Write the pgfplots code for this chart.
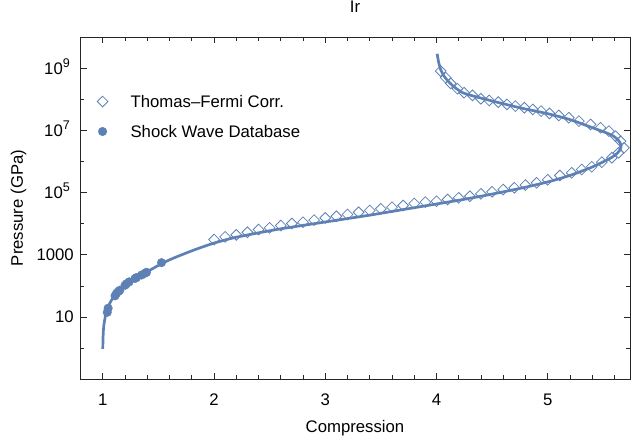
\documentclass[border=0pt]{standalone}
\usepackage{fontspec}
\setmainfont{Liberation Sans}
\usepackage{pgfplots}
\usepackage{pgfplotstable}
\pgfplotsset{compat=1.18}
\definecolor{mblue}{rgb}{0.368417,0.506779,0.709798}
\newcommand\sups[1]{\raisebox{7.3bp}{\fontsize{12.6}{14}\selectfont #1}\kern4bp}
\pgfplotsset{mylegimg/.style={legend image code/.code={\path[draw=none,fill=none] (-5bp,-6bp) rectangle (26bp,6bp); \draw[##1] plot coordinates {(0bp,0bp)};}}}

\pgfplotstableread{
x p
1.000 0.933
1.002 2.0
1.005 3.55
1.010 5.62
1.018 8.32
1.027 12.6
1.040 17.8
1.060 26.3
1.080 35.5
1.100 44.7
1.130 60.3
1.160 77.6
1.200 105
1.250 141
1.300 182
1.350 229
1.400 288
1.450 363
1.500 457
1.600 692
1.700 977
1.800 1349
1.900 1820
2.000 2399
2.100 3020
2.200 3715
2.400 5129
2.600 6918
2.800 8913
3.000 11482
3.200 14791
3.400 19055
3.600 25119
3.800 33113
4.000 43652
4.200 57544
4.400 77625
4.600 107152
4.800 151356
5.000 223872
5.100 281838
5.200 363078
5.300 489779
5.400 676083
5.500 1000000
5.580 1412538
5.630 1949845
5.655 2630268
5.660 3162278
5.650 4168694
5.620 5623413
5.580 7079458
5.500 9332543
5.370 1.38e7
5.200 2.29e7
5.000 3.55e7
4.750 5.50e7
4.500 9.12e7
4.350 1.26e8
4.240 1.66e8
4.170 2.40e8
4.120 3.47e8
4.070 5.62e8
4.040 8.91e8
4.020 1.58e9
4.006 3.02e9
}\curvetable

\pgfplotstableread{
x p
2.0 3119
2.1 3802
2.2 4416
2.3 5358
2.4 6546
2.5 7430
2.6 8810
2.7 10233
2.8 11272
2.9 13183
3.0 15631
3.1 17579
3.2 19953
3.3 23659
3.4 26853
3.5 30479
3.6 34277
3.7 38905
3.8 45186
3.9 50119
4.0 53580
4.1 60814
4.2 69024
4.3 77625
4.4 92897
4.5 107647
4.6 127644
4.7 144877
4.8 177828
4.9 210378
5.0 263027
5.11 361410
5.216 441570
5.306 564937
5.396 690240
5.487 970510
5.577 1345860
5.637 1949845
5.685 2818383
5.655 4623810
5.61 6698846
5.55 9705100
5.475 1.250e7
5.385 1.596e7
5.28 2.042e7
5.19 2.630e7
5.10 3.119e7
5.016 3.631e7
4.941 4.285e7
4.866 4.864e7
4.79 5.521e7
4.709 6.223e7
4.634 7.047e7
4.555 8.375e7
4.474 9.484e7
4.399 1.076e8
4.324 1.377e8
4.248 1.683e8
4.189 2.265e8
4.128 3.357e8
4.083 5.129e8
4.038 8.375e8
}\tftable

\pgfplotstableread{
x p
1.040 14.1
1.048 19.1
1.110 47.9
1.123 57.5
1.140 66.1
1.153 72.4
1.200 105
1.213 117
1.237 135
1.290 174
1.303 186
1.348 224
1.380 257
1.393 275
1.528 562
}\shocktable

\begin{document}
\fontsize{16.8}{20}\selectfont
\begin{tikzpicture}
\begin{axis}[name=ax, scale only axis, width=550bp, height=342bp,
  xmin=0.795, xmax=5.74, ymode=log, ymin=0.1, ymax=1.05e10,
  axis line style={black!85, line width=0.9bp},
  tick style={black!85, line width=0.8bp},
  tick align=inside,
  major tick length=6.5bp, minor tick length=4bp,
  xtick={1,2,3,4,5}, xticklabels={1,2,3,4,5},
  minor xtick={1.2,1.4,1.6,1.8,2.2,2.4,2.6,2.8,3.2,3.4,3.6,3.8,4.2,4.4,4.6,4.8,5.2,5.4,5.6},
  ytick={10,1000,1e5,1e7,1e9},
  yticklabels={10,1000,10\sups{5},10\sups{7},10\sups{9}},
  minor ytick={1,100,1e4,1e6,1e8},
  /pgf/number format/assume math mode=true,
  xticklabel style={anchor=base, inner sep=0pt, yshift=-26bp},
  yticklabel style={anchor=base east, inner sep=0pt, xshift=-6bp, yshift=-6bp},
  title={Ir}, title style={at={(0.5,1)}, anchor=base, inner sep=0pt, yshift=19bp},
  xlabel={Compression}, xlabel style={at={(0.5,0)}, anchor=base, inner sep=0pt, yshift=-53bp},
  ylabel={Pressure (GPa)}, ylabel style={at={(-0.10364,0.5)}, anchor=base, inner sep=0pt},
  legend cell align=left,
  legend style={draw=none, fill=none, at={(0.0309,0.8295)}, anchor=north west,
    inner sep=0pt, row sep=18bp, column sep=2bp,
    nodes={inner sep=0pt, text height=12bp, text depth=0pt}},
]
\addplot[only marks, mark=square, mark size=3.8bp, mark options={rotate=45, draw=mblue, fill=none, line width=0.8bp}, mylegimg]
  table[x=x,y=p] {\tftable};
\addlegendentry{Thomas–Fermi Corr.}
\addplot[forget plot, mblue, line width=2.7bp, smooth, tension=0.4, no marks] table[x=x,y=p] {\curvetable};
\addplot[only marks, mark=*, mark size=4.3bp, mark options={draw=mblue, fill=mblue}, mylegimg]
  table[x=x,y=p] {\shocktable};
\addlegendentry{Shock Wave Database}
\end{axis}
\pgfresetboundingbox
\path ([shift={(-80bp,-60bp)}]ax.south west) rectangle ([shift={(1bp,37bp)}]ax.north east);
\end{tikzpicture}
\end{document}
